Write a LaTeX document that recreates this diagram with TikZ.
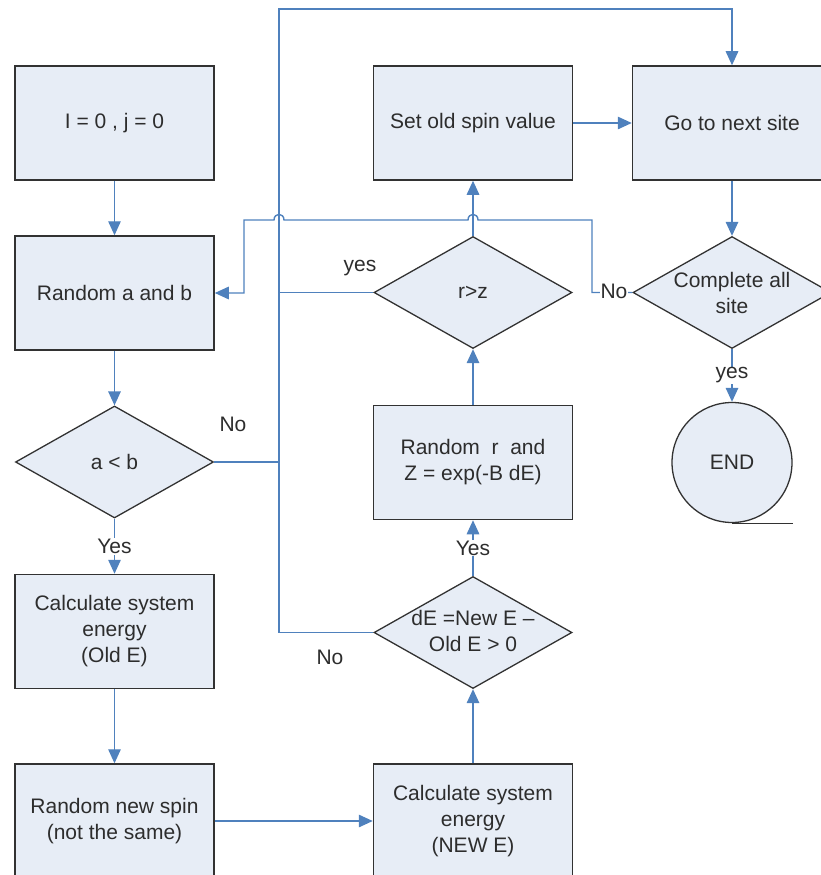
\documentclass[tikz,border=0pt]{standalone}
\usepackage{fontspec}
\setmainfont{Liberation Sans}
\usetikzlibrary{shapes.geometric,arrows.meta}
\definecolor{boxfill}{RGB}{231,237,246}
\definecolor{boxline}{RGB}{50,50,50}
\definecolor{connc}{RGB}{79,129,189}
\definecolor{txtc}{RGB}{45,45,45}
\begin{document}
\begin{tikzpicture}[x=1pt,y=-1pt,
  every node/.style={font=\fontsize{21}{26}\selectfont, text=txtc},
  box/.style={draw=boxline, line width=1.5pt, fill=boxfill, minimum width=199pt, minimum height=114pt, inner sep=0pt, align=center},
  dia/.style={diamond, draw=boxline, line width=1.3pt, fill=boxfill, minimum width=198pt, minimum height=112pt, inner sep=0pt},
  dtext/.style={align=center, inner sep=0pt},
  wire/.style={draw=connc, line width=1.4pt},
  arr/.style={wire, -{Triangle[length=14pt,width=12.5pt]}},
  lbl/.style={fill=white, inner sep=1pt},
]
\useasboundingbox (0,0) rectangle (821,875);

% nodes
\node[box] (init) at (114.5,123) {I = 0 , j = 0};
\node[box] (rab) at (114.5,293) {Random a and b};
\node[dia] (ab) at (114.5,462) {};
\node[dtext] (abt) at (ab) {a < b};
\node[box] (oldE) at (114.5,631.5) {Calculate system\\energy\\(Old E)};
\node[box] (rns) at (114.5,821) {Random new spin\\(not the same)};
\node[box] (newE) at (473,821) {Calculate system\\energy\\(NEW E)};
\node[dia] (de) at (473,632.5) {};
\node[dtext] (det) at (473,631) {dE =New E –\\Old E > 0};
\node[box] (rr) at (473,462.5) {Random\ \ r\ \ and\\Z = exp(-B dE)};
\node[dia] (rz) at (473,292.5) {};
\node[dtext] (rzt) at (rz) {r>z};
\node[box] (sos) at (473,123) {Set old spin value};
\node[box] (gns) at (732,123) {Go to next site};
\node[dia] (cmp) at (732,292.5) {};
\node[dtext] (cmpt) at (cmp) {Complete all\\site};
\node[circle, draw=boxline, line width=1.3pt, fill=boxfill, minimum size=120pt, inner sep=0pt] (endn) at (732,462.5) {END};
\draw[draw=boxline, line width=1.3pt] (endn.south) -- ++(61,0);

% junction coordinates
\coordinate (vb) at (279,632.5);
\coordinate (vt) at (279,9);
\coordinate (ht) at (732,9);
\coordinate (va) at (279,462);
\coordinate (vr) at (279,292.5);
\coordinate (n1) at (592,292.5);
\coordinate (n2) at (592,220);
\coordinate (lp) at (244,220);

% connectors
\draw[arr] (init.south) -- (rab.north);
\draw[arr] (rab.south) -- (ab.north);
\draw[arr] (ab.south) -- node[lbl]{Yes} (oldE.north);
\draw[arr] (oldE.south) -- (rns.north);
\draw[arr] (rns.east) -- (newE.west);
\draw[arr] (newE.north) -- (de.south);
\draw[arr] (de.north) -- node[lbl]{Yes} (rr.south);
\draw[arr] (rr.north) -- (rz.south);
\draw[arr] (rz.north) -- (sos.south);
\draw[arr] (sos.east) -- (gns.west);
\draw[arr] (gns.south) -- (cmp.north);
\draw[arr] (cmp.south) -- node[lbl]{yes} (endn.north);

\draw[arr] (de.west) -- (vb) -- (vt) -- (ht) -- (gns.north);
\draw[wire] (ab.east) -- (va);
\draw[wire] (rz.west) -- (vr);

\draw[arr] (cmp.west) -- (n1) -- (n2) -- (478,220)
  .. controls (478,212.5) and (468,212.5) .. (468,220) -- (284,220)
  .. controls (284,212.5) and (274,212.5) .. (274,220) -- (lp) |- (rab.east);

% labels
\node[lbl] (noc) at (614,291) {No};
\node (noab) at (233,424) {No};
\node (yesrz) at (360,268) {yes};
\node (node) at (330,657) {No};
\end{tikzpicture}
\end{document}
